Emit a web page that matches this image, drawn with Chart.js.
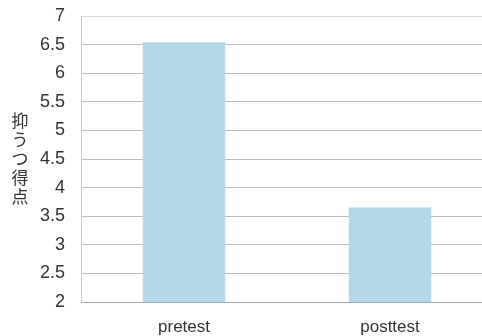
<!DOCTYPE html>
<html>
<head>
<meta charset="utf-8">
<script src="https://cdn.jsdelivr.net/npm/chart.js@4"></script>
<style>
  html, body { margin: 0; padding: 0; background: #fff; overflow: hidden; }
  #wrap { width: 482px; height: 336px; overflow: hidden; }
</style>
</head>
<body>
<div id="wrap"><canvas id="chart" width="493" height="336"></canvas></div>
<script>
const categories = ['pretest', 'posttest'];
const scores = [6.54, 3.65];
const yTitle = '抑うつ得点';

// vertical stacked axis title (upright characters)
const stackedTitle = {
  id: 'stackedTitle',
  afterDraw(chart) {
    const ctx = chart.ctx;
    const area = chart.chartArea;
    const chars = Array.from(yTitle);
    const step = 19;
    const mid = (area.top + area.bottom) / 2;
    let y = mid - (chars.length * step) / 2 + step / 2;
    ctx.save();
    ctx.font = '17px "Noto Sans CJK JP", sans-serif';
    ctx.fillStyle = '#333';
    ctx.textAlign = 'center';
    ctx.textBaseline = 'middle';
    chars.forEach((c) => {
      ctx.fillText(c, 20, y);
      y += step;
    });
    ctx.restore();
  }
};

new Chart(document.getElementById('chart'), {
  type: 'bar',
  data: {
    labels: categories,
    datasets: [{
      data: scores,
      backgroundColor: '#b2d8e9',
      barPercentage: 0.4,
      categoryPercentage: 1
    }]
  },
  options: {
    responsive: false,
    animation: false,
    layout: { padding: { top: 16, right: 0, bottom: 0, left: 0 } },
    plugins: { legend: { display: false }, tooltip: { enabled: false } },
    scales: {
      x: {
        grid: { display: false, drawTicks: false },
        border: { color: '#a6a6a6', width: 1 },
        ticks: { color: '#333', font: { family: 'Liberation Sans', size: 17 }, padding: 15 },
        afterFit: (s) => { s.height = 34; }
      },
      y: {
        min: 2,
        max: 7,
        ticks: {
          stepSize: 0.5,
          color: '#333',
          padding: 16,
          font: { family: 'Liberation Sans', size: 18 },
          callback: (v) => String(v)
        },
        grid: {
          drawTicks: false,
          color: (c) => (c.tick && c.tick.value === 7 ? '#d9d9d9' : '#bcbcbc')
        },
        border: { color: '#c8c8c8', width: 1 },
        afterFit: (s) => { s.width = 81; s.paddingTop = 0; s.paddingBottom = 0; }
      }
    }
  },
  plugins: [stackedTitle]
});
</script>
</body>
</html>
